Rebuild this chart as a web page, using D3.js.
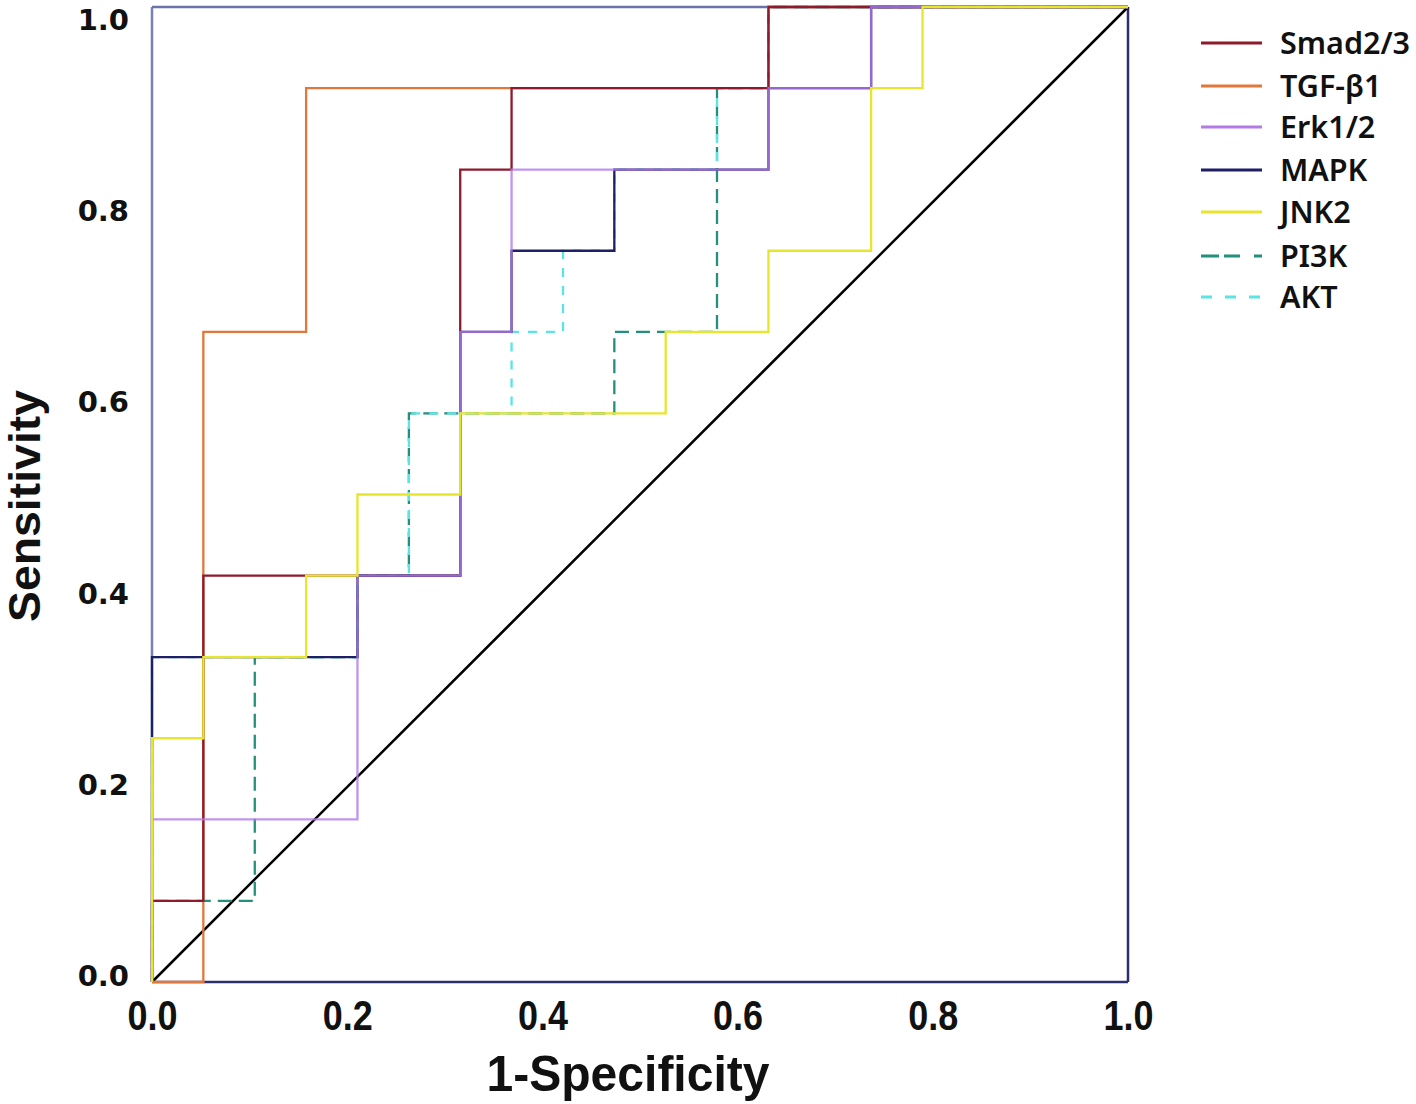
<!DOCTYPE html>
<html>
<head>
<meta charset="utf-8">
<script src="https://cdn.jsdelivr.net/npm/d3@7"></script>
<style>
  html, body { margin: 0; padding: 0; background: #ffffff; }
  svg { display: block; }
</style>
</head>
<body>
<svg id="chart" width="1416" height="1104"></svg>
<script>
// ---- Data ----
const seriesNames = ["Smad2/3", "TGF-β1", "Erk1/2", "MAPK", "JNK2", "PI3K", "AKT"];

const smadFpr = [0, 0, 0.0526, 0.0526, 0.3158, 0.3158, 0.3684, 0.3684, 0.6316, 0.6316, 1];
const smadTpr = [0, 0.0833, 0.0833, 0.4167, 0.4167, 0.8333, 0.8333, 0.9167, 0.9167, 1, 1];

const tgfFpr = [0, 0.0526, 0.0526, 0.1579, 0.1579, 0.6316, 0.6316, 1];
const tgfTpr = [0, 0, 0.6667, 0.6667, 0.9167, 0.9167, 1, 1];

const erkFpr = [0, 0, 0.2105, 0.2105, 0.3158, 0.3158, 0.3684, 0.3684, 0.6316, 0.6316, 0.7368, 0.7368, 1];
const erkTpr = [0, 0.1667, 0.1667, 0.4167, 0.4167, 0.6667, 0.6667, 0.8333, 0.8333, 0.9167, 0.9167, 1, 1];

const mapkFpr = [0, 0, 0.2105, 0.2105, 0.3158, 0.3158, 0.3684, 0.3684, 0.4737, 0.4737, 0.6316, 0.6316, 0.7368, 0.7368, 1];
const mapkTpr = [0, 0.3333, 0.3333, 0.4167, 0.4167, 0.6667, 0.6667, 0.75, 0.75, 0.8333, 0.8333, 0.9167, 0.9167, 1, 1];

const jnkFpr = [0, 0, 0.0526, 0.0526, 0.1579, 0.1579, 0.2105, 0.2105, 0.3158, 0.3158, 0.5263, 0.5263, 0.6316, 0.6316, 0.7368, 0.7368, 0.7895, 0.7895, 1];
const jnkTpr = [0, 0.25, 0.25, 0.3333, 0.3333, 0.4167, 0.4167, 0.5, 0.5, 0.5833, 0.5833, 0.6667, 0.6667, 0.75, 0.75, 0.9167, 0.9167, 1, 1];

const pi3kFpr = [0, 0, 0.1053, 0.1053, 0.2105, 0.2105, 0.2632, 0.2632, 0.4737, 0.4737, 0.5789, 0.5789, 0.6316, 0.6316, 1];
const pi3kTpr = [0, 0.0833, 0.0833, 0.3333, 0.3333, 0.4167, 0.4167, 0.5833, 0.5833, 0.6667, 0.6667, 0.9167, 0.9167, 1, 1];

const aktFpr = [0, 0, 0.2105, 0.2105, 0.2632, 0.2632, 0.3684, 0.3684, 0.4211, 0.4211, 0.4737, 0.4737, 0.5789, 0.5789, 0.6316, 0.6316, 1];
const aktTpr = [0, 0.3333, 0.3333, 0.4167, 0.4167, 0.5833, 0.5833, 0.6667, 0.6667, 0.75, 0.75, 0.8333, 0.8333, 0.9167, 0.9167, 1, 1];

const refFpr = [0, 1];
const refTpr = [0, 1];

const xTickValues = [0, 0.2, 0.4, 0.6, 0.8, 1.0];
const yTickValues = [0, 0.2, 0.4, 0.6, 0.8, 1.0];

// ---- Styles ----
const seriesStyle = {
  "Smad2/3": { color: "#8e1a2c", dash: null, opacity: 1 },
  "TGF-β1":  { color: "#e2773c", dash: null, opacity: 1 },
  "Erk1/2":  { color: "#b27be8", dash: null, opacity: 0.8 },
  "MAPK":    { color: "#1f1f66", dash: null, opacity: 1 },
  "JNK2":    { color: "#e8e62c", dash: null, opacity: 1 },
  "PI3K":    { color: "#22907c", dash: "14,7", opacity: 1 },
  "AKT":     { color: "#5ae4e6", dash: "9,9", opacity: 1 }
};

const seriesData = {
  "Smad2/3": [smadFpr, smadTpr],
  "TGF-β1":  [tgfFpr, tgfTpr],
  "Erk1/2":  [erkFpr, erkTpr],
  "MAPK":    [mapkFpr, mapkTpr],
  "JNK2":    [jnkFpr, jnkTpr],
  "PI3K":    [pi3kFpr, pi3kTpr],
  "AKT":     [aktFpr, aktTpr]
};

// draw order (bottom to top)
const drawOrder = ["TGF-β1", "PI3K", "AKT", "Smad2/3", "MAPK", "Erk1/2", "JNK2"];

// ---- Layout ----
const svg = d3.select("#chart");
const pLeft = 152, pRight = 1128, pTop = 7, pBottom = 982;

const x = d3.scaleLinear().domain([0, 1]).range([pLeft, pRight]);
const y = d3.scaleLinear().domain([0, 1]).range([pBottom, pTop]);
// tick label placement scale for y labels (labels sit slightly inside the ends)
const yLab = d3.scaleLinear().domain([0, 1]).range([975, 19]);

const line = d3.line().x(d => x(d[0])).y(d => y(d[1]));

// plot frame
svg.append("line").attr("x1", pLeft).attr("y1", pTop).attr("x2", pLeft).attr("y2", pBottom)
  .attr("stroke", "#7a80b4").attr("stroke-width", 2.5);
svg.append("line").attr("x1", pLeft).attr("y1", pTop).attr("x2", pRight).attr("y2", pTop)
  .attr("stroke", "#6d72a8").attr("stroke-width", 2.5);
svg.append("line").attr("x1", pLeft).attr("y1", pBottom).attr("x2", pRight).attr("y2", pBottom)
  .attr("stroke", "#2c2f6c").attr("stroke-width", 2.5);
svg.append("line").attr("x1", pRight).attr("y1", pTop).attr("x2", pRight).attr("y2", pBottom)
  .attr("stroke", "#2c2f6c").attr("stroke-width", 2.5);

// reference diagonal
svg.append("path")
  .datum(d3.zip(refFpr, refTpr))
  .attr("d", line)
  .attr("fill", "none")
  .attr("stroke", "#000")
  .attr("stroke-width", 2.5);

// ROC curves
drawOrder.forEach(name => {
  const [fx, ty] = seriesData[name];
  const st = seriesStyle[name];
  const p = svg.append("path")
    .datum(d3.zip(fx, ty))
    .attr("d", line)
    .attr("fill", "none")
    .attr("stroke", st.color)
    .attr("stroke-opacity", st.opacity)
    .attr("stroke-width", 2.3)
    .attr("stroke-linejoin", "miter");
  if (st.dash) p.attr("stroke-dasharray", st.dash);
});

// X axis labels
const xAxis = d3.axisBottom(x).tickValues(xTickValues).tickFormat(d3.format(".1f")).tickSize(0).tickPadding(0);
const gx = svg.append("g").attr("transform", `translate(0,${pBottom})`).call(xAxis);
gx.select(".domain").remove();
gx.selectAll(".tick text")
  .attr("y", 46)
  .attr("dy", 0)
  .attr("fill", "#111")
  .style("font-family", "'Liberation Sans', Arial, sans-serif")
  .style("font-size", "40px")
  .style("font-weight", "bold")
  .attr("transform", "scale(0.9,1.05)");

// Y axis labels
const yAxis = d3.axisLeft(yLab).tickValues(yTickValues).tickFormat(d3.format(".1f")).tickSize(0).tickPadding(0);
const gy = svg.append("g").attr("transform", `translate(129,0)`).call(yAxis);
gy.select(".domain").remove();
gy.selectAll(".tick text")
  .attr("x", 0)
  .attr("dy", "0.36em")
  .attr("fill", "#111")
  .style("font-family", "'DejaVu Sans', sans-serif")
  .style("font-size", "29px")
  .style("font-weight", "bold");

// Axis titles
svg.append("text")
  .attr("x", 628).attr("y", 1091)
  .attr("text-anchor", "middle")
  .attr("textLength", 283).attr("lengthAdjust", "spacingAndGlyphs")
  .style("font-family", "'Liberation Sans', Arial, sans-serif")
  .style("font-size", "50px")
  .style("font-weight", "bold")
  .attr("fill", "#111")
  .text("1-Specificity");

svg.append("text")
  .attr("transform", "translate(40,506) rotate(-90)")
  .attr("text-anchor", "middle")
  .attr("textLength", 232).attr("lengthAdjust", "spacingAndGlyphs")
  .style("font-family", "'Liberation Sans', Arial, sans-serif")
  .style("font-size", "44px")
  .style("font-weight", "bold")
  .attr("fill", "#111")
  .text("Sensitivity");

// Legend
const legendY = [43, 86, 127, 170, 212, 256, 297];
const lg = svg.append("g");
seriesNames.forEach((name, i) => {
  const st = seriesStyle[name];
  const l = lg.append("line")
    .attr("x1", 1201).attr("x2", 1262)
    .attr("y1", legendY[i]).attr("y2", legendY[i])
    .attr("stroke", st.color).attr("stroke-width", 3);
  if (name === "PI3K") l.attr("stroke-dasharray", "18,5,16,14");
  if (name === "AKT") l.attr("stroke-dasharray", "11,13");
  lg.append("text")
    .attr("x", 1280).attr("y", legendY[i])
    .attr("dy", "0.36em")
    .style("font-family", "'Noto Sans', sans-serif")
    .style("font-size", "30.5px")
    .style("font-weight", "600")
    .attr("fill", "#111")
    .text(name);
});
</script>
</body>
</html>
